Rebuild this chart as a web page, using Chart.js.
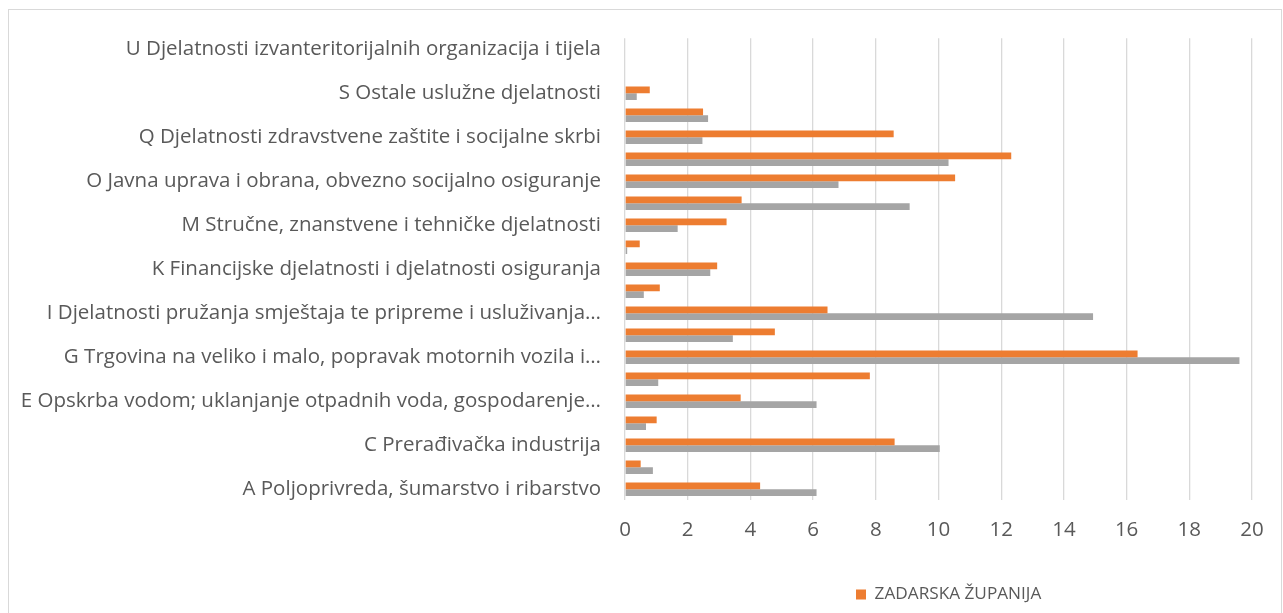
<!DOCTYPE html>
<html>
<head>
<meta charset="utf-8">
<script src="https://cdn.jsdelivr.net/npm/chart.js@4.4.1/dist/chart.umd.min.js"></script>
<style>
html,body{margin:0;padding:0;background:#fff;overflow:hidden;}
#frame{position:absolute;left:8px;top:9px;width:1274px;height:640px;border:1.5px solid #d9d9d9;box-sizing:border-box;}
#wrap{position:absolute;left:9px;top:10px;width:1274px;height:603px;}
</style>
</head>
<body>
<div id="frame"></div>
<div id="wrap"><canvas id="c"></canvas></div>
<script>
const categories = [
  "A Poljoprivreda, šumarstvo i ribarstvo",
  "B Rudarstvo i vađenje",
  "C Prerađivačka industrija",
  "D Opskrba električnom energijom, plinom, parom i klimatizacija",
  "E Opskrba vodom; uklanjanje otpadnih voda, gospodarenje…",
  "F Građevinarstvo",
  "G Trgovina na veliko i malo, popravak motornih vozila i…",
  "H Prijevoz i skladištenje",
  "I Djelatnosti pružanja smještaja te pripreme i usluživanja…",
  "J Informacije i komunikacije",
  "K Financijske djelatnosti i djelatnosti osiguranja",
  "L Poslovanje nekretninama",
  "M Stručne, znanstvene i tehničke djelatnosti",
  "N Administrativne i pomoćne uslužne djelatnosti",
  "O Javna uprava i obrana, obvezno socijalno osiguranje",
  "P Obrazovanje",
  "Q Djelatnosti zdravstvene zaštite i socijalne skrbi",
  "R Umjetnost, zabava i rekreacija",
  "S Ostale uslužne djelatnosti",
  "T Djelatnosti kućanstava kao poslodavaca",
  "U Djelatnosti izvanteritorijalnih organizacija i tijela"
];
const zadarska = [4.31, 0.50, 8.60, 1.01, 3.69, 7.81, 16.35, 4.78, 6.46, 1.11, 2.94, 0.47, 3.24, 3.72, 10.53, 12.32, 8.57, 2.49, 0.79, 0, 0];
const hrvatska = [6.11, 0.89, 10.04, 0.67, 6.11, 1.06, 19.60, 3.44, 14.93, 0.60, 2.72, 0.07, 1.68, 9.08, 6.81, 10.32, 2.47, 2.65, 0.375, 0, 0];
const seriesNames = ["ZADARSKA ŽUPANIJA", "REPUBLIKA HRVATSKA"];
const xTicks = [0, 2, 4, 6, 8, 10, 12, 14, 16, 18, 20];

const FONT = "Open Sans";
const TXT = "#595959";

const legendShift = {
  id: 'legendShift',
  afterLayout(chart) {
    const lg = chart.legend;
    const w = lg.right - lg.left;
    lg.left = chart.chartArea.left + 221;
    lg.right = lg.left + w;
  }
};

new Chart(document.getElementById('c'), {
  type: 'bar',
  data: {
    labels: categories,
    datasets: [
      { label: seriesNames[0], data: zadarska, backgroundColor: '#ED7D31', categoryPercentage: 0.62, barPercentage: 1.0 },
      { label: seriesNames[1], data: hrvatska, backgroundColor: '#A5A5A5', categoryPercentage: 0.62, barPercentage: 1.0 }
    ]
  },
  options: {
    indexAxis: 'y',
    responsive: true,
    maintainAspectRatio: false,
    animation: false,
    layout: { padding: { top: 18, right: 31, left: 0, bottom: 0 } },
    plugins: {
      tooltip: { enabled: false },
      legend: {
        position: 'bottom',
        align: 'start',
        labels: {
          filter: (item) => item.datasetIndex === 0,
          boxWidth: 10, boxHeight: 10,
          color: TXT,
          font: { family: FONT, size: 17.2 },
          padding: 10
        }
      }
    },
    scales: {
      x: {
        min: 0, max: 20,
        afterBuildTicks(scale) { scale.ticks = xTicks.map(v => ({ value: v })); },
        afterFit(scale) { scale.height += 15; },
        grid: { color: '#d9d9d9', lineWidth: 1.3, drawTicks: false },
        border: { display: false },
        ticks: { color: TXT, font: { family: FONT, size: 20.5 }, padding: 18 }
      },
      y: {
        reverse: true,
        grid: { display: false },
        border: { display: false },
        afterFit(scale) { scale.width = 616; },
        ticks: {
          autoSkip: false,
          color: TXT,
          font: { family: FONT, size: 20.5 },
          padding: 16,
          callback(v, i) { return i % 2 === 0 ? categories[i] : ''; }
        }
      }
    }
  },
  plugins: [legendShift]
});
</script>
</body>
</html>
